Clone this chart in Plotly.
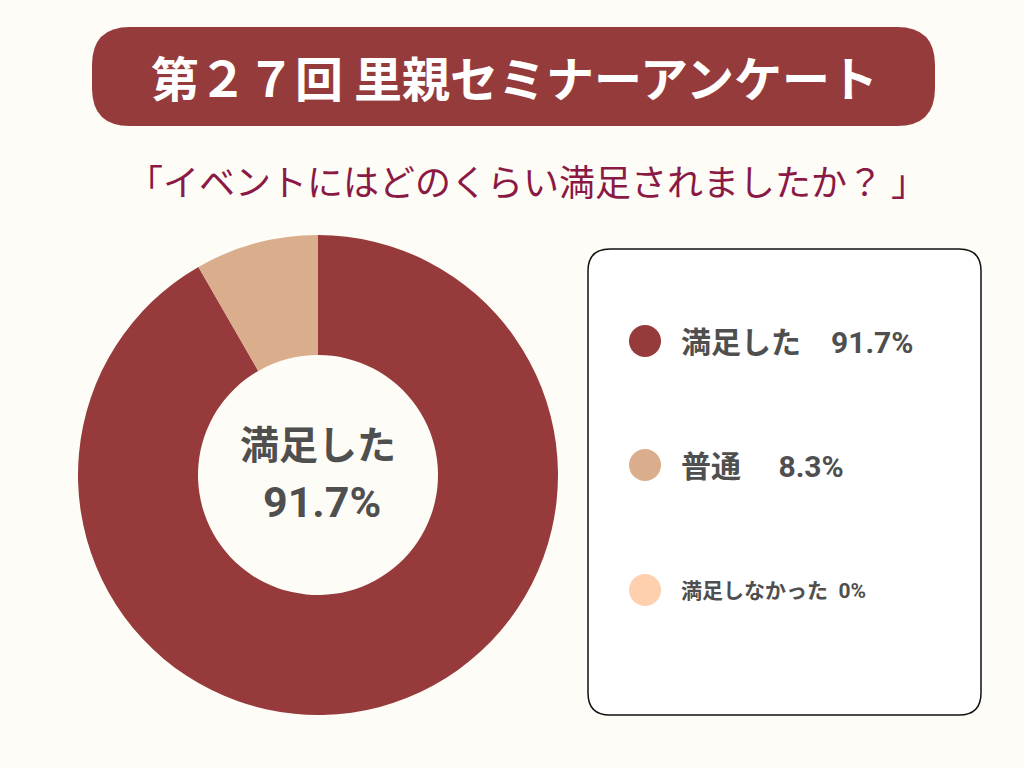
import plotly.graph_objects as go

# ---- data ----
categories = ["満足した", "普通", "満足しなかった"]
values = [91.7, 8.3, 0]
colors = ["#963A3B", "#DAAE8D", "#FFD0AE"]
legend_labels = ["満足した　91.7%", "普通　 8.3%", "満足しなかった  0%"]
title_text = "第２７回 里親セミナーアンケート"
subtitle_text = "「イベントにはどのくらい満足されましたか？ 」"
center_lines = ["満足した", "91.7%"]

W, H = 1024, 768
BG = "#FEFCF6"
FONT = "Noto Sans CJK JP"
MIXED = "Roboto, 'Noto Sans CJK JP'"
TEXT_GRAY = "#4F4F4F"


def px(x):
    return x / W


def py(y):
    return 1 - y / H


def rounded_rect(x0, y0, x1, y1, r):
    X0, X1 = px(x0), px(x1)
    Y0, Y1 = py(y0), py(y1)
    rx, ry = r / W, r / H
    return (f"M {X0+rx},{Y0} L {X1-rx},{Y0} Q {X1},{Y0} {X1},{Y0-ry} "
            f"L {X1},{Y1+ry} Q {X1},{Y1} {X1-rx},{Y1} "
            f"L {X0+rx},{Y1} Q {X0},{Y1} {X0},{Y1+ry} "
            f"L {X0},{Y0-ry} Q {X0},{Y0} {X0+rx},{Y0} Z")


fig = go.Figure()
fig.add_trace(go.Pie(
    labels=categories,
    values=values,
    marker=dict(colors=colors, line=dict(width=0)),
    hole=0.5,
    sort=False,
    direction="clockwise",
    rotation=0,
    textinfo="none",
    showlegend=False,
    domain=dict(x=[px(78), px(558)], y=[py(715), py(235)]),
))

shapes = []
shapes.append(dict(type="path", xref="paper", yref="paper",
                   path=rounded_rect(92, 27, 935, 126, 38),
                   fillcolor="#963B3B", line=dict(width=0), layer="below"))
shapes.append(dict(type="path", xref="paper", yref="paper",
                   path=rounded_rect(588, 249, 981, 715, 22),
                   fillcolor="#FFFFFF", line=dict(color="#111111", width=1.5),
                   layer="below"))

annotations = [
    dict(text=f"<b>{title_text}</b>", x=px(514), y=py(76), xref="paper", yref="paper",
         showarrow=False, font=dict(family=FONT, size=48, color="#FFFFFF"),
         xanchor="center", yanchor="middle"),
    dict(text=subtitle_text, x=px(527), y=py(180), xref="paper", yref="paper",
         showarrow=False, font=dict(family=FONT, size=36, color="#8A1A45"),
         xanchor="center", yanchor="middle"),
    dict(text=f"<b>{center_lines[0]}</b>", x=px(318), y=py(446), xref="paper", yref="paper",
         showarrow=False, font=dict(family=MIXED, size=39, color=TEXT_GRAY),
         xanchor="center", yanchor="middle"),
    dict(text=f"<b>{center_lines[1]}</b>", x=px(322), y=py(502), xref="paper", yref="paper",
         showarrow=False, font=dict(family=MIXED, size=43, color=TEXT_GRAY),
         xanchor="center", yanchor="middle"),
]

legend_y = [341, 465, 590]
legend_sizes = [30, 30, 21]
for lab, c, yy, fs in zip(legend_labels, colors, legend_y, legend_sizes):
    r = 16
    shapes.append(dict(type="circle", xref="paper", yref="paper",
                       x0=px(645 - r), x1=px(645 + r), y0=py(yy + r), y1=py(yy - r),
                       fillcolor=c, line=dict(width=0)))
    annotations.append(dict(text=f"<b>{lab}</b>", x=px(679), y=py(yy + 1),
                            xref="paper", yref="paper", showarrow=False,
                            font=dict(family=MIXED, size=fs, color=TEXT_GRAY),
                            xanchor="left", yanchor="middle"))

fig.update_layout(
    width=W, height=H,
    margin=dict(l=0, r=0, t=0, b=0),
    paper_bgcolor=BG, plot_bgcolor=BG,
    shapes=shapes, annotations=annotations,
    showlegend=False,
)

fig.write_html("out.html", config={"displayModeBar": False})
